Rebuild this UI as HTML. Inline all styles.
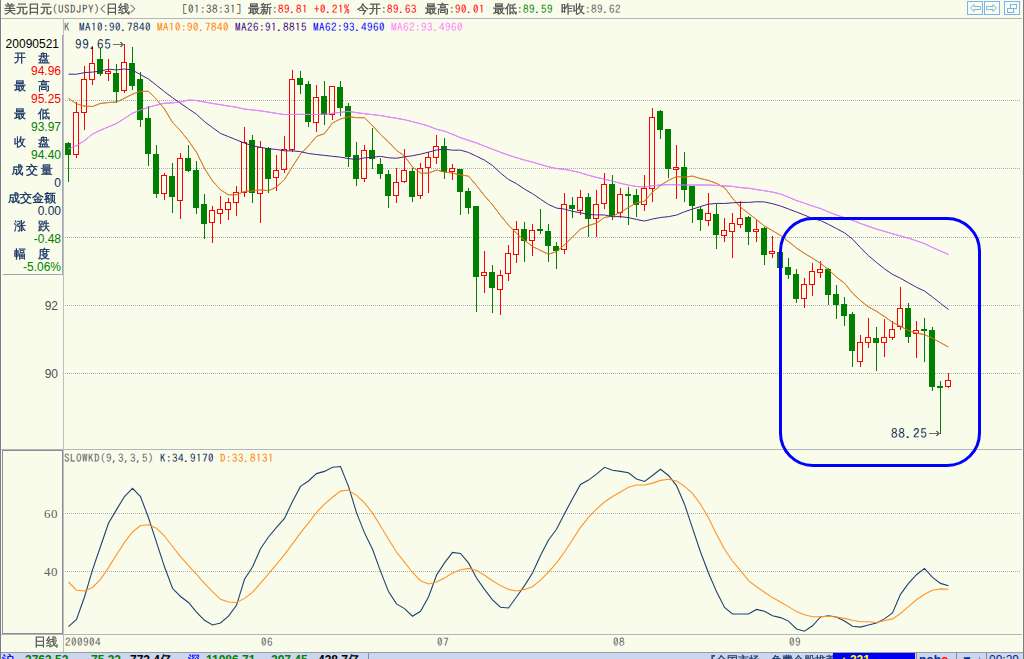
<!DOCTYPE html>
<html><head><meta charset="utf-8"><title>USDJPY</title>
<style>
html,body{margin:0;padding:0;width:1024px;height:659px;overflow:hidden;background:#FAFCEB}
svg{display:block;position:absolute;left:0;top:0}
</style></head><body>
<svg width="1024" height="659" viewBox="0 0 1024 659">
<rect x="0" y="0" width="1024" height="659" fill="#FAFCEB"/>
<g shape-rendering="crispEdges">
<rect x="0" y="0" width="1" height="659" fill="#7C7C84"/>
<rect x="1" y="0" width="1" height="652" fill="#FFFFFF" fill-opacity="0.6"/>
<rect x="1023" y="0" width="1" height="659" fill="#7C7C84"/>
<rect x="1" y="18" width="1021" height="1" fill="#B4B4BC"/>
<rect x="63" y="18" width="1" height="634" fill="#BCBCC4"/>
<rect x="1" y="449" width="1021" height="1" fill="#B4B4BC"/>
<rect x="1" y="634" width="1021" height="1" fill="#B4B4BC"/>
<rect x="1" y="652" width="1022" height="1" fill="#9C9CA4"/>
<rect x="62" y="35" width="1" height="240" fill="#A4A4AC"/>
<rect x="3" y="274" width="60" height="1" fill="#A4A4AC"/>
<rect x="2.5" y="450.5" width="60" height="183" fill="none" stroke="#8C8C94" stroke-width="1"/>
<rect x="1" y="653" width="1022" height="6" fill="#CCD6EE"/>
<line x1="65" y1="100.5" x2="1020" y2="100.5" stroke="#AEAEB8" stroke-width="1" stroke-dasharray="1 1"/>
<line x1="65" y1="168.5" x2="1020" y2="168.5" stroke="#AEAEB8" stroke-width="1" stroke-dasharray="1 1"/>
<line x1="65" y1="237.5" x2="1020" y2="237.5" stroke="#AEAEB8" stroke-width="1" stroke-dasharray="1 1"/>
<line x1="65" y1="305.5" x2="1020" y2="305.5" stroke="#AEAEB8" stroke-width="1" stroke-dasharray="1 1"/>
<line x1="65" y1="373.5" x2="1020" y2="373.5" stroke="#AEAEB8" stroke-width="1" stroke-dasharray="1 1"/>
<line x1="65" y1="513.5" x2="1020" y2="513.5" stroke="#AEAEB8" stroke-width="1" stroke-dasharray="1 1"/>
<line x1="65" y1="571.5" x2="1020" y2="571.5" stroke="#AEAEB8" stroke-width="1" stroke-dasharray="1 1"/>
<rect x="68" y="142" width="1" height="40" fill="#008000"/>
<rect x="65" y="143" width="6" height="12" fill="#008000"/>
<rect x="76" y="102" width="1" height="10" fill="#FF0000"/>
<rect x="76" y="155" width="1" height="3" fill="#FF0000"/>
<rect x="73.5" y="112.5" width="5" height="42" fill="none" stroke="#FF0000" stroke-width="1"/>
<rect x="84" y="66" width="1" height="13" fill="#FF0000"/>
<rect x="84" y="113" width="1" height="17" fill="#FF0000"/>
<rect x="81.5" y="79.5" width="5" height="33" fill="none" stroke="#FF0000" stroke-width="1"/>
<rect x="92" y="46" width="1" height="17" fill="#FF0000"/>
<rect x="92" y="80" width="1" height="5" fill="#FF0000"/>
<rect x="89.5" y="63.5" width="5" height="16" fill="none" stroke="#FF0000" stroke-width="1"/>
<rect x="100" y="48" width="1" height="28" fill="#008000"/>
<rect x="97" y="59" width="6" height="15" fill="#008000"/>
<rect x="108" y="59" width="1" height="12" fill="#FF0000"/>
<rect x="108" y="74" width="1" height="7" fill="#FF0000"/>
<rect x="105.5" y="71.5" width="5" height="2" fill="none" stroke="#FF0000" stroke-width="1"/>
<rect x="116" y="64" width="1" height="39" fill="#008000"/>
<rect x="113" y="73" width="6" height="19" fill="#008000"/>
<rect x="124" y="44" width="1" height="18" fill="#FF0000"/>
<rect x="124" y="91" width="1" height="2" fill="#FF0000"/>
<rect x="121.5" y="62.5" width="5" height="28" fill="none" stroke="#FF0000" stroke-width="1"/>
<rect x="132" y="47" width="1" height="43" fill="#008000"/>
<rect x="129" y="63" width="6" height="23" fill="#008000"/>
<rect x="140" y="72" width="1" height="55" fill="#008000"/>
<rect x="137" y="79" width="6" height="41" fill="#008000"/>
<rect x="148" y="106" width="1" height="60" fill="#008000"/>
<rect x="145" y="118" width="6" height="36" fill="#008000"/>
<rect x="156" y="145" width="1" height="53" fill="#008000"/>
<rect x="153" y="154" width="6" height="40" fill="#008000"/>
<rect x="164" y="173" width="1" height="2" fill="#FF0000"/>
<rect x="164" y="194" width="1" height="6" fill="#FF0000"/>
<rect x="161.5" y="175.5" width="5" height="18" fill="none" stroke="#FF0000" stroke-width="1"/>
<rect x="172" y="163" width="1" height="50" fill="#008000"/>
<rect x="169" y="176" width="6" height="21" fill="#008000"/>
<rect x="180" y="153" width="1" height="5" fill="#FF0000"/>
<rect x="180" y="201" width="1" height="18" fill="#FF0000"/>
<rect x="177.5" y="158.5" width="5" height="42" fill="none" stroke="#FF0000" stroke-width="1"/>
<rect x="188" y="145" width="1" height="27" fill="#008000"/>
<rect x="185" y="158" width="6" height="13" fill="#008000"/>
<rect x="196" y="161" width="1" height="53" fill="#008000"/>
<rect x="193" y="170" width="6" height="38" fill="#008000"/>
<rect x="204" y="194" width="1" height="45" fill="#008000"/>
<rect x="201" y="204" width="6" height="20" fill="#008000"/>
<rect x="212" y="206" width="1" height="4" fill="#FF0000"/>
<rect x="212" y="223" width="1" height="20" fill="#FF0000"/>
<rect x="209.5" y="210.5" width="5" height="12" fill="none" stroke="#FF0000" stroke-width="1"/>
<rect x="220" y="196" width="1" height="13" fill="#FF0000"/>
<rect x="220" y="214" width="1" height="10" fill="#FF0000"/>
<rect x="217.5" y="209.5" width="5" height="4" fill="none" stroke="#FF0000" stroke-width="1"/>
<rect x="228" y="198" width="1" height="4" fill="#FF0000"/>
<rect x="228" y="210" width="1" height="10" fill="#FF0000"/>
<rect x="225.5" y="202.5" width="5" height="7" fill="none" stroke="#FF0000" stroke-width="1"/>
<rect x="236" y="186" width="1" height="6" fill="#FF0000"/>
<rect x="236" y="203" width="1" height="13" fill="#FF0000"/>
<rect x="233.5" y="192.5" width="5" height="10" fill="none" stroke="#FF0000" stroke-width="1"/>
<rect x="244" y="127" width="1" height="15" fill="#FF0000"/>
<rect x="244" y="193" width="1" height="4" fill="#FF0000"/>
<rect x="241.5" y="142.5" width="5" height="50" fill="none" stroke="#FF0000" stroke-width="1"/>
<rect x="252" y="135" width="1" height="68" fill="#008000"/>
<rect x="249" y="140" width="6" height="53" fill="#008000"/>
<rect x="260" y="141" width="1" height="6" fill="#FF0000"/>
<rect x="260" y="194" width="1" height="29" fill="#FF0000"/>
<rect x="257.5" y="147.5" width="5" height="46" fill="none" stroke="#FF0000" stroke-width="1"/>
<rect x="268" y="147" width="1" height="46" fill="#008000"/>
<rect x="265" y="148" width="6" height="31" fill="#008000"/>
<rect x="276" y="155" width="1" height="15" fill="#FF0000"/>
<rect x="276" y="178" width="1" height="13" fill="#FF0000"/>
<rect x="273.5" y="170.5" width="5" height="7" fill="none" stroke="#FF0000" stroke-width="1"/>
<rect x="284" y="136" width="1" height="13" fill="#FF0000"/>
<rect x="284" y="170" width="1" height="3" fill="#FF0000"/>
<rect x="281.5" y="149.5" width="5" height="20" fill="none" stroke="#FF0000" stroke-width="1"/>
<rect x="292" y="70" width="1" height="9" fill="#FF0000"/>
<rect x="292" y="150" width="1" height="2" fill="#FF0000"/>
<rect x="289.5" y="79.5" width="5" height="70" fill="none" stroke="#FF0000" stroke-width="1"/>
<rect x="300" y="71" width="1" height="23" fill="#008000"/>
<rect x="297" y="78" width="6" height="7" fill="#008000"/>
<rect x="308" y="81" width="1" height="46" fill="#008000"/>
<rect x="305" y="84" width="6" height="38" fill="#008000"/>
<rect x="316" y="85" width="1" height="12" fill="#FF0000"/>
<rect x="316" y="123" width="1" height="9" fill="#FF0000"/>
<rect x="313.5" y="97.5" width="5" height="25" fill="none" stroke="#FF0000" stroke-width="1"/>
<rect x="324" y="81" width="1" height="44" fill="#008000"/>
<rect x="321" y="96" width="6" height="19" fill="#008000"/>
<rect x="332" y="115" width="1" height="5" fill="#FF0000"/>
<rect x="329.5" y="86.5" width="5" height="28" fill="none" stroke="#FF0000" stroke-width="1"/>
<rect x="340" y="81" width="1" height="35" fill="#008000"/>
<rect x="337" y="87" width="6" height="21" fill="#008000"/>
<rect x="348" y="103" width="1" height="64" fill="#008000"/>
<rect x="345" y="106" width="6" height="51" fill="#008000"/>
<rect x="356" y="142" width="1" height="44" fill="#008000"/>
<rect x="353" y="155" width="6" height="24" fill="#008000"/>
<rect x="364" y="145" width="1" height="5" fill="#FF0000"/>
<rect x="364" y="179" width="1" height="3" fill="#FF0000"/>
<rect x="361.5" y="150.5" width="5" height="28" fill="none" stroke="#FF0000" stroke-width="1"/>
<rect x="372" y="128" width="1" height="41" fill="#008000"/>
<rect x="369" y="150" width="6" height="9" fill="#008000"/>
<rect x="380" y="158" width="1" height="21" fill="#008000"/>
<rect x="377" y="164" width="6" height="10" fill="#008000"/>
<rect x="388" y="170" width="1" height="38" fill="#008000"/>
<rect x="385" y="174" width="6" height="22" fill="#008000"/>
<rect x="396" y="168" width="1" height="14" fill="#FF0000"/>
<rect x="396" y="196" width="1" height="7" fill="#FF0000"/>
<rect x="393.5" y="182.5" width="5" height="13" fill="none" stroke="#FF0000" stroke-width="1"/>
<rect x="404" y="149" width="1" height="21" fill="#FF0000"/>
<rect x="404" y="182" width="1" height="1" fill="#FF0000"/>
<rect x="401.5" y="170.5" width="5" height="11" fill="none" stroke="#FF0000" stroke-width="1"/>
<rect x="412" y="168" width="1" height="34" fill="#008000"/>
<rect x="409" y="171" width="6" height="26" fill="#008000"/>
<rect x="420" y="163" width="1" height="5" fill="#FF0000"/>
<rect x="420" y="196" width="1" height="3" fill="#FF0000"/>
<rect x="417.5" y="168.5" width="5" height="27" fill="none" stroke="#FF0000" stroke-width="1"/>
<rect x="428" y="152" width="1" height="5" fill="#FF0000"/>
<rect x="428" y="168" width="1" height="25" fill="#FF0000"/>
<rect x="425.5" y="157.5" width="5" height="10" fill="none" stroke="#FF0000" stroke-width="1"/>
<rect x="436" y="135" width="1" height="11" fill="#FF0000"/>
<rect x="436" y="158" width="1" height="6" fill="#FF0000"/>
<rect x="433.5" y="146.5" width="5" height="11" fill="none" stroke="#FF0000" stroke-width="1"/>
<rect x="444" y="138" width="1" height="41" fill="#008000"/>
<rect x="441" y="146" width="6" height="26" fill="#008000"/>
<rect x="452" y="164" width="1" height="4" fill="#FF0000"/>
<rect x="452" y="172" width="1" height="8" fill="#FF0000"/>
<rect x="449.5" y="168.5" width="5" height="3" fill="none" stroke="#FF0000" stroke-width="1"/>
<rect x="460" y="169" width="1" height="46" fill="#008000"/>
<rect x="457" y="169" width="6" height="23" fill="#008000"/>
<rect x="468" y="188" width="1" height="26" fill="#008000"/>
<rect x="465" y="191" width="6" height="17" fill="#008000"/>
<rect x="476" y="206" width="1" height="106" fill="#008000"/>
<rect x="473" y="206" width="6" height="71" fill="#008000"/>
<rect x="484" y="251" width="1" height="21" fill="#FF0000"/>
<rect x="484" y="276" width="1" height="17" fill="#FF0000"/>
<rect x="481.5" y="272.5" width="5" height="3" fill="none" stroke="#FF0000" stroke-width="1"/>
<rect x="492" y="265" width="1" height="48" fill="#008000"/>
<rect x="489" y="272" width="6" height="16" fill="#008000"/>
<rect x="500" y="270" width="1" height="5" fill="#FF0000"/>
<rect x="500" y="290" width="1" height="25" fill="#FF0000"/>
<rect x="497.5" y="275.5" width="5" height="14" fill="none" stroke="#FF0000" stroke-width="1"/>
<rect x="508" y="245" width="1" height="8" fill="#FF0000"/>
<rect x="508" y="274" width="1" height="7" fill="#FF0000"/>
<rect x="505.5" y="253.5" width="5" height="20" fill="none" stroke="#FF0000" stroke-width="1"/>
<rect x="516" y="221" width="1" height="8" fill="#FF0000"/>
<rect x="516" y="255" width="1" height="8" fill="#FF0000"/>
<rect x="513.5" y="229.5" width="5" height="25" fill="none" stroke="#FF0000" stroke-width="1"/>
<rect x="524" y="222" width="1" height="40" fill="#008000"/>
<rect x="521" y="229" width="6" height="12" fill="#008000"/>
<rect x="532" y="224" width="1" height="6" fill="#FF0000"/>
<rect x="532" y="241" width="1" height="15" fill="#FF0000"/>
<rect x="529.5" y="230.5" width="5" height="10" fill="none" stroke="#FF0000" stroke-width="1"/>
<rect x="540" y="209" width="1" height="25" fill="#008000"/>
<rect x="537" y="229" width="6" height="2" fill="#008000"/>
<rect x="548" y="224" width="1" height="38" fill="#008000"/>
<rect x="545" y="231" width="6" height="15" fill="#008000"/>
<rect x="556" y="242" width="1" height="27" fill="#008000"/>
<rect x="553" y="246" width="6" height="5" fill="#008000"/>
<rect x="564" y="193" width="1" height="11" fill="#FF0000"/>
<rect x="564" y="250" width="1" height="4" fill="#FF0000"/>
<rect x="561.5" y="204.5" width="5" height="45" fill="none" stroke="#FF0000" stroke-width="1"/>
<rect x="572" y="197" width="1" height="21" fill="#008000"/>
<rect x="569" y="205" width="6" height="4" fill="#008000"/>
<rect x="580" y="190" width="1" height="7" fill="#FF0000"/>
<rect x="580" y="211" width="1" height="4" fill="#FF0000"/>
<rect x="577.5" y="197.5" width="5" height="13" fill="none" stroke="#FF0000" stroke-width="1"/>
<rect x="588" y="193" width="1" height="44" fill="#008000"/>
<rect x="585" y="197" width="6" height="22" fill="#008000"/>
<rect x="596" y="190" width="1" height="14" fill="#FF0000"/>
<rect x="596" y="219" width="1" height="18" fill="#FF0000"/>
<rect x="593.5" y="204.5" width="5" height="14" fill="none" stroke="#FF0000" stroke-width="1"/>
<rect x="604" y="173" width="1" height="11" fill="#FF0000"/>
<rect x="604" y="204" width="1" height="5" fill="#FF0000"/>
<rect x="601.5" y="184.5" width="5" height="19" fill="none" stroke="#FF0000" stroke-width="1"/>
<rect x="612" y="175" width="1" height="45" fill="#008000"/>
<rect x="609" y="184" width="6" height="32" fill="#008000"/>
<rect x="620" y="188" width="1" height="6" fill="#FF0000"/>
<rect x="620" y="213" width="1" height="5" fill="#FF0000"/>
<rect x="617.5" y="194.5" width="5" height="18" fill="none" stroke="#FF0000" stroke-width="1"/>
<rect x="628" y="187" width="1" height="38" fill="#008000"/>
<rect x="625" y="194" width="6" height="2" fill="#008000"/>
<rect x="636" y="189" width="1" height="28" fill="#008000"/>
<rect x="633" y="195" width="6" height="10" fill="#008000"/>
<rect x="644" y="175" width="1" height="13" fill="#FF0000"/>
<rect x="644" y="205" width="1" height="6" fill="#FF0000"/>
<rect x="641.5" y="188.5" width="5" height="16" fill="none" stroke="#FF0000" stroke-width="1"/>
<rect x="652" y="108" width="1" height="9" fill="#FF0000"/>
<rect x="652" y="189" width="1" height="13" fill="#FF0000"/>
<rect x="649.5" y="117.5" width="5" height="71" fill="none" stroke="#FF0000" stroke-width="1"/>
<rect x="660" y="110" width="1" height="29" fill="#008000"/>
<rect x="657" y="111" width="6" height="19" fill="#008000"/>
<rect x="668" y="129" width="1" height="49" fill="#008000"/>
<rect x="665" y="129" width="6" height="40" fill="#008000"/>
<rect x="676" y="145" width="1" height="22" fill="#FF0000"/>
<rect x="676" y="170" width="1" height="29" fill="#FF0000"/>
<rect x="673.5" y="167.5" width="5" height="2" fill="none" stroke="#FF0000" stroke-width="1"/>
<rect x="684" y="152" width="1" height="50" fill="#008000"/>
<rect x="681" y="167" width="6" height="23" fill="#008000"/>
<rect x="692" y="186" width="1" height="37" fill="#008000"/>
<rect x="689" y="186" width="6" height="20" fill="#008000"/>
<rect x="700" y="207" width="1" height="24" fill="#008000"/>
<rect x="697" y="209" width="6" height="11" fill="#008000"/>
<rect x="708" y="193" width="1" height="20" fill="#FF0000"/>
<rect x="708" y="221" width="1" height="5" fill="#FF0000"/>
<rect x="705.5" y="213.5" width="5" height="7" fill="none" stroke="#FF0000" stroke-width="1"/>
<rect x="716" y="204" width="1" height="45" fill="#008000"/>
<rect x="713" y="214" width="6" height="21" fill="#008000"/>
<rect x="724" y="218" width="1" height="12" fill="#FF0000"/>
<rect x="724" y="236" width="1" height="6" fill="#FF0000"/>
<rect x="721.5" y="230.5" width="5" height="5" fill="none" stroke="#FF0000" stroke-width="1"/>
<rect x="732" y="213" width="1" height="10" fill="#FF0000"/>
<rect x="732" y="232" width="1" height="26" fill="#FF0000"/>
<rect x="729.5" y="223.5" width="5" height="8" fill="none" stroke="#FF0000" stroke-width="1"/>
<rect x="740" y="201" width="1" height="17" fill="#FF0000"/>
<rect x="740" y="225" width="1" height="3" fill="#FF0000"/>
<rect x="737.5" y="218.5" width="5" height="6" fill="none" stroke="#FF0000" stroke-width="1"/>
<rect x="748" y="216" width="1" height="29" fill="#008000"/>
<rect x="745" y="217" width="6" height="15" fill="#008000"/>
<rect x="756" y="220" width="1" height="9" fill="#FF0000"/>
<rect x="756" y="232" width="1" height="10" fill="#FF0000"/>
<rect x="753.5" y="229.5" width="5" height="2" fill="none" stroke="#FF0000" stroke-width="1"/>
<rect x="764" y="227" width="1" height="38" fill="#008000"/>
<rect x="761" y="228" width="6" height="27" fill="#008000"/>
<rect x="772" y="236" width="1" height="15" fill="#FF0000"/>
<rect x="772" y="254" width="1" height="4" fill="#FF0000"/>
<rect x="769.5" y="251.5" width="5" height="2" fill="none" stroke="#FF0000" stroke-width="1"/>
<rect x="780" y="252" width="1" height="16" fill="#008000"/>
<rect x="777" y="252" width="6" height="16" fill="#008000"/>
<rect x="788" y="258" width="1" height="21" fill="#008000"/>
<rect x="785" y="267" width="6" height="8" fill="#008000"/>
<rect x="796" y="269" width="1" height="34" fill="#008000"/>
<rect x="793" y="274" width="6" height="25" fill="#008000"/>
<rect x="804" y="278" width="1" height="6" fill="#FF0000"/>
<rect x="804" y="299" width="1" height="9" fill="#FF0000"/>
<rect x="801.5" y="284.5" width="5" height="14" fill="none" stroke="#FF0000" stroke-width="1"/>
<rect x="812" y="263" width="1" height="8" fill="#FF0000"/>
<rect x="812" y="285" width="1" height="11" fill="#FF0000"/>
<rect x="809.5" y="271.5" width="5" height="13" fill="none" stroke="#FF0000" stroke-width="1"/>
<rect x="820" y="261" width="1" height="8" fill="#FF0000"/>
<rect x="820" y="273" width="1" height="5" fill="#FF0000"/>
<rect x="817.5" y="269.5" width="5" height="3" fill="none" stroke="#FF0000" stroke-width="1"/>
<rect x="828" y="268" width="1" height="37" fill="#008000"/>
<rect x="825" y="269" width="6" height="26" fill="#008000"/>
<rect x="836" y="285" width="1" height="34" fill="#008000"/>
<rect x="833" y="294" width="6" height="11" fill="#008000"/>
<rect x="844" y="297" width="1" height="29" fill="#008000"/>
<rect x="841" y="304" width="6" height="12" fill="#008000"/>
<rect x="852" y="312" width="1" height="55" fill="#008000"/>
<rect x="849" y="314" width="6" height="37" fill="#008000"/>
<rect x="860" y="335" width="1" height="7" fill="#FF0000"/>
<rect x="860" y="362" width="1" height="5" fill="#FF0000"/>
<rect x="857.5" y="342.5" width="5" height="19" fill="none" stroke="#FF0000" stroke-width="1"/>
<rect x="868" y="318" width="1" height="19" fill="#FF0000"/>
<rect x="868" y="343" width="1" height="5" fill="#FF0000"/>
<rect x="865.5" y="337.5" width="5" height="5" fill="none" stroke="#FF0000" stroke-width="1"/>
<rect x="876" y="327" width="1" height="44" fill="#008000"/>
<rect x="873" y="338" width="6" height="5" fill="#008000"/>
<rect x="884" y="319" width="1" height="18" fill="#FF0000"/>
<rect x="884" y="343" width="1" height="14" fill="#FF0000"/>
<rect x="881.5" y="337.5" width="5" height="5" fill="none" stroke="#FF0000" stroke-width="1"/>
<rect x="892" y="321" width="1" height="8" fill="#FF0000"/>
<rect x="892" y="338" width="1" height="2" fill="#FF0000"/>
<rect x="889.5" y="329.5" width="5" height="8" fill="none" stroke="#FF0000" stroke-width="1"/>
<rect x="900" y="287" width="1" height="21" fill="#FF0000"/>
<rect x="900" y="327" width="1" height="3" fill="#FF0000"/>
<rect x="897.5" y="308.5" width="5" height="18" fill="none" stroke="#FF0000" stroke-width="1"/>
<rect x="908" y="303" width="1" height="40" fill="#008000"/>
<rect x="905" y="308" width="6" height="29" fill="#008000"/>
<rect x="916" y="321" width="1" height="9" fill="#FF0000"/>
<rect x="916" y="334" width="1" height="24" fill="#FF0000"/>
<rect x="913.5" y="330.5" width="5" height="3" fill="none" stroke="#FF0000" stroke-width="1"/>
<rect x="924" y="318" width="1" height="44" fill="#008000"/>
<rect x="921" y="329" width="6" height="2" fill="#008000"/>
<rect x="932" y="327" width="1" height="64" fill="#008000"/>
<rect x="929" y="330" width="6" height="57" fill="#008000"/>
<rect x="940" y="381" width="1" height="53" fill="#008000"/>
<rect x="937" y="386" width="6" height="2" fill="#008000"/>
<rect x="948" y="373" width="1" height="7" fill="#FF0000"/>
<rect x="948" y="387" width="1" height="1" fill="#FF0000"/>
<rect x="945.5" y="380.5" width="5" height="6" fill="none" stroke="#FF0000" stroke-width="1"/>
<polyline points="68.5,98.30 76.5,103.88 84.5,106.11 92.5,106.50 100.5,103.40 108.5,102.52 116.5,101.97 124.5,98.25 132.5,94.10 140.5,91.40 148.5,91.30 156.5,99.40 164.5,109.00 172.5,122.30 180.5,130.80 188.5,140.70 196.5,152.30 204.5,168.40 212.5,180.90 220.5,189.90 228.5,194.80 236.5,194.70 244.5,191.40 252.5,191.00 260.5,189.90 268.5,190.70 276.5,187.00 284.5,179.60 292.5,166.50 300.5,154.00 308.5,145.90 316.5,136.40 324.5,133.60 332.5,123.00 340.5,119.00 348.5,116.80 356.5,117.60 364.5,117.70 372.5,125.60 380.5,134.50 388.5,141.90 396.5,150.40 404.5,156.00 412.5,167.00 420.5,173.10 428.5,173.20 436.5,170.00 444.5,172.10 452.5,173.10 460.5,174.90 468.5,176.10 476.5,185.50 484.5,195.70 492.5,204.80 500.5,215.50 508.5,225.10 516.5,233.40 524.5,240.30 532.5,246.50 540.5,250.40 548.5,254.20 556.5,251.60 564.5,244.80 572.5,236.90 580.5,229.10 588.5,225.60 596.5,223.10 604.5,217.50 612.5,216.00 620.5,212.40 628.5,207.40 636.5,202.80 644.5,201.20 652.5,192.10 660.5,185.30 668.5,180.30 676.5,176.60 684.5,177.10 692.5,176.10 700.5,178.60 708.5,180.40 716.5,183.40 724.5,187.60 732.5,198.20 740.5,207.10 748.5,213.40 756.5,219.60 764.5,226.10 772.5,230.70 780.5,235.50 788.5,241.60 796.5,248.00 804.5,253.40 812.5,258.20 820.5,263.30 828.5,269.60 836.5,277.10 844.5,283.20 852.5,293.10 860.5,300.60 868.5,306.90 876.5,311.30 884.5,316.60 892.5,322.40 900.5,326.30 908.5,330.50 916.5,333.10 924.5,334.60 932.5,338.20 940.5,342.70 948.5,347.00" fill="none" stroke="#0A2A5C" stroke-width="1" stroke-opacity="0.55" shape-rendering="auto"/>
<polyline points="68.5,98.30 76.5,103.88 84.5,106.11 92.5,106.50 100.5,103.40 108.5,102.52 116.5,101.97 124.5,98.25 132.5,94.10 140.5,91.40 148.5,91.30 156.5,99.40 164.5,109.00 172.5,122.30 180.5,130.80 188.5,140.70 196.5,152.30 204.5,168.40 212.5,180.90 220.5,189.90 228.5,194.80 236.5,194.70 244.5,191.40 252.5,191.00 260.5,189.90 268.5,190.70 276.5,187.00 284.5,179.60 292.5,166.50 300.5,154.00 308.5,145.90 316.5,136.40 324.5,133.60 332.5,123.00 340.5,119.00 348.5,116.80 356.5,117.60 364.5,117.70 372.5,125.60 380.5,134.50 388.5,141.90 396.5,150.40 404.5,156.00 412.5,167.00 420.5,173.10 428.5,173.20 436.5,170.00 444.5,172.10 452.5,173.10 460.5,174.90 468.5,176.10 476.5,185.50 484.5,195.70 492.5,204.80 500.5,215.50 508.5,225.10 516.5,233.40 524.5,240.30 532.5,246.50 540.5,250.40 548.5,254.20 556.5,251.60 564.5,244.80 572.5,236.90 580.5,229.10 588.5,225.60 596.5,223.10 604.5,217.50 612.5,216.00 620.5,212.40 628.5,207.40 636.5,202.80 644.5,201.20 652.5,192.10 660.5,185.30 668.5,180.30 676.5,176.60 684.5,177.10 692.5,176.10 700.5,178.60 708.5,180.40 716.5,183.40 724.5,187.60 732.5,198.20 740.5,207.10 748.5,213.40 756.5,219.60 764.5,226.10 772.5,230.70 780.5,235.50 788.5,241.60 796.5,248.00 804.5,253.40 812.5,258.20 820.5,263.30 828.5,269.60 836.5,277.10 844.5,283.20 852.5,293.10 860.5,300.60 868.5,306.90 876.5,311.30 884.5,316.60 892.5,322.40 900.5,326.30 908.5,330.50 916.5,333.10 924.5,334.60 932.5,338.20 940.5,342.70 948.5,347.00" fill="none" stroke="#FF8000" stroke-width="1" stroke-opacity="0.9" shape-rendering="auto"/>
<polyline points="68.5,74.15 76.5,74.19 84.5,72.62 92.5,72.08 100.5,71.12 108.5,69.16 116.5,69.94 124.5,68.95 132.5,70.09 140.5,74.65 148.5,79.00 156.5,85.35 164.5,91.69 172.5,97.69 180.5,103.34 188.5,108.85 196.5,114.29 204.5,121.62 212.5,127.61 220.5,133.44 228.5,136.67 236.5,139.90 244.5,143.10 252.5,145.75 260.5,147.38 268.5,148.81 276.5,149.42 284.5,150.85 292.5,150.85 300.5,151.65 308.5,153.50 316.5,154.50 324.5,155.38 332.5,156.31 340.5,157.15 348.5,158.58 356.5,159.54 364.5,157.88 372.5,157.23 380.5,156.35 388.5,157.77 396.5,158.23 404.5,156.81 412.5,155.77 420.5,154.15 428.5,152.15 436.5,150.00 444.5,149.19 452.5,150.19 460.5,150.15 468.5,152.46 476.5,156.23 484.5,160.15 492.5,165.46 500.5,173.00 508.5,179.50 516.5,183.65 524.5,189.15 532.5,193.62 540.5,199.15 548.5,204.46 556.5,208.08 564.5,209.08 572.5,211.31 580.5,212.81 588.5,214.54 596.5,214.88 604.5,214.96 612.5,216.69 620.5,216.62 628.5,217.65 636.5,219.46 644.5,221.08 652.5,219.00 660.5,217.50 668.5,216.62 676.5,215.08 684.5,211.73 692.5,209.15 700.5,206.54 708.5,204.15 716.5,203.42 724.5,203.46 732.5,202.81 740.5,202.35 748.5,202.38 756.5,201.77 764.5,201.92 772.5,203.73 780.5,206.00 788.5,208.96 796.5,212.04 804.5,215.12 812.5,218.46 820.5,220.54 828.5,224.38 836.5,228.58 844.5,232.85 852.5,239.08 860.5,247.73 868.5,255.73 876.5,262.42 884.5,268.96 892.5,274.35 900.5,278.31 908.5,282.81 916.5,287.31 924.5,291.00 932.5,297.00 940.5,303.31 948.5,309.54" fill="none" stroke="#48208C" stroke-width="1" shape-rendering="auto"/>
<polyline points="68.5,148.90 76.5,145.64 84.5,140.66 92.5,134.06 100.5,130.20 108.5,126.84 116.5,123.49 124.5,118.36 132.5,113.19 140.5,110.00 148.5,107.25 156.5,105.12 164.5,103.17 172.5,102.87 180.5,101.88 188.5,100.07 196.5,100.54 204.5,101.97 212.5,103.44 220.5,104.74 228.5,106.02 236.5,107.30 244.5,109.07 252.5,109.97 260.5,110.87 268.5,112.05 276.5,113.33 284.5,114.60 292.5,114.47 300.5,114.34 308.5,114.40 316.5,114.53 324.5,114.20 332.5,113.33 340.5,112.39 348.5,111.43 356.5,112.66 364.5,113.66 372.5,114.63 380.5,115.60 388.5,116.97 396.5,118.34 404.5,119.71 412.5,121.66 420.5,123.76 428.5,126.05 436.5,129.22 444.5,131.21 452.5,134.32 460.5,137.70 468.5,140.36 476.5,143.02 484.5,146.11 492.5,149.23 500.5,152.26 508.5,155.10 516.5,157.68 524.5,160.07 532.5,162.17 540.5,164.42 548.5,166.80 556.5,168.50 564.5,169.31 572.5,170.85 580.5,172.76 588.5,175.26 596.5,177.37 604.5,179.19 612.5,181.19 620.5,183.32 628.5,185.10 636.5,186.47 644.5,187.03 652.5,185.81 660.5,185.06 668.5,184.61 676.5,184.76 684.5,185.06 692.5,185.03 700.5,184.97 708.5,185.02 716.5,185.42 724.5,185.87 732.5,186.37 740.5,187.60 748.5,188.23 756.5,189.55 764.5,190.77 772.5,192.08 780.5,193.98 788.5,197.13 796.5,200.58 804.5,203.21 812.5,206.02 820.5,208.52 828.5,211.87 836.5,215.05 844.5,217.61 852.5,220.39 860.5,223.48 868.5,226.37 876.5,229.10 884.5,231.39 892.5,233.76 900.5,235.98 908.5,238.24 916.5,240.85 924.5,243.65 932.5,247.52 940.5,251.00 948.5,254.42" fill="none" stroke="#0000FF" stroke-width="1" stroke-opacity="0.45" shape-rendering="auto"/>
<polyline points="68.5,148.90 76.5,145.64 84.5,140.66 92.5,134.06 100.5,130.20 108.5,126.84 116.5,123.49 124.5,118.36 132.5,113.19 140.5,110.00 148.5,107.25 156.5,105.12 164.5,103.17 172.5,102.87 180.5,101.88 188.5,100.07 196.5,100.54 204.5,101.97 212.5,103.44 220.5,104.74 228.5,106.02 236.5,107.30 244.5,109.07 252.5,109.97 260.5,110.87 268.5,112.05 276.5,113.33 284.5,114.60 292.5,114.47 300.5,114.34 308.5,114.40 316.5,114.53 324.5,114.20 332.5,113.33 340.5,112.39 348.5,111.43 356.5,112.66 364.5,113.66 372.5,114.63 380.5,115.60 388.5,116.97 396.5,118.34 404.5,119.71 412.5,121.66 420.5,123.76 428.5,126.05 436.5,129.22 444.5,131.21 452.5,134.32 460.5,137.70 468.5,140.36 476.5,143.02 484.5,146.11 492.5,149.23 500.5,152.26 508.5,155.10 516.5,157.68 524.5,160.07 532.5,162.17 540.5,164.42 548.5,166.80 556.5,168.50 564.5,169.31 572.5,170.85 580.5,172.76 588.5,175.26 596.5,177.37 604.5,179.19 612.5,181.19 620.5,183.32 628.5,185.10 636.5,186.47 644.5,187.03 652.5,185.81 660.5,185.06 668.5,184.61 676.5,184.76 684.5,185.06 692.5,185.03 700.5,184.97 708.5,185.02 716.5,185.42 724.5,185.87 732.5,186.37 740.5,187.60 748.5,188.23 756.5,189.55 764.5,190.77 772.5,192.08 780.5,193.98 788.5,197.13 796.5,200.58 804.5,203.21 812.5,206.02 820.5,208.52 828.5,211.87 836.5,215.05 844.5,217.61 852.5,220.39 860.5,223.48 868.5,226.37 876.5,229.10 884.5,231.39 892.5,233.76 900.5,235.98 908.5,238.24 916.5,240.85 924.5,243.65 932.5,247.52 940.5,251.00 948.5,254.42" fill="none" stroke="#FF80FF" stroke-width="1" stroke-opacity="0.95" shape-rendering="auto"/>
<polyline points="68.5,626.60 76.5,619.50 84.5,597.00 92.5,569.80 100.5,546.50 108.5,523.30 116.5,509.60 124.5,496.50 132.5,488.30 140.5,496.50 148.5,517.80 156.5,542.40 164.5,566.80 172.5,588.30 180.5,596.50 188.5,602.50 196.5,612.10 204.5,620.30 212.5,625.00 220.5,623.00 228.5,616.20 236.5,605.30 244.5,579.30 252.5,567.00 260.5,548.80 268.5,537.00 276.5,527.40 284.5,518.40 292.5,501.40 300.5,486.40 308.5,481.00 316.5,473.60 324.5,471.40 332.5,467.30 340.5,466.50 348.5,486.40 356.5,512.60 364.5,532.90 372.5,549.30 380.5,571.10 388.5,591.60 396.5,603.90 404.5,608.60 412.5,616.20 420.5,611.30 428.5,597.00 436.5,575.20 444.5,562.90 452.5,552.40 460.5,553.40 468.5,562.90 476.5,578.00 484.5,589.40 492.5,599.80 500.5,607.20 508.5,608.00 516.5,597.00 524.5,585.60 532.5,573.00 540.5,555.50 548.5,540.00 556.5,529.30 564.5,513.70 572.5,498.70 580.5,484.50 588.5,480.10 596.5,474.10 604.5,467.30 612.5,470.30 620.5,471.40 628.5,472.80 636.5,479.00 644.5,481.50 652.5,475.50 660.5,469.20 668.5,475.50 676.5,485.60 684.5,504.20 692.5,528.20 700.5,552.00 708.5,573.00 716.5,591.60 724.5,607.50 732.5,614.00 740.5,614.00 748.5,614.00 756.5,609.40 764.5,611.30 772.5,615.70 780.5,617.60 788.5,621.10 796.5,629.00 804.5,631.20 812.5,625.80 820.5,617.00 828.5,615.70 836.5,617.00 844.5,621.10 852.5,626.30 860.5,627.10 868.5,625.00 876.5,623.00 884.5,618.90 892.5,612.90 900.5,594.30 908.5,583.40 916.5,574.70 924.5,568.40 932.5,577.40 940.5,583.40 948.5,585.80" fill="none" stroke="#1E4270" stroke-width="1.1" shape-rendering="auto"/>
<polyline points="68.5,582.00 76.5,590.20 84.5,591.00 92.5,587.50 100.5,579.30 108.5,567.60 116.5,554.70 124.5,542.40 132.5,532.00 140.5,525.50 148.5,524.70 156.5,528.20 164.5,536.00 172.5,546.50 180.5,556.60 188.5,565.70 196.5,574.40 204.5,583.40 212.5,591.60 220.5,599.30 228.5,602.00 236.5,602.50 244.5,598.40 252.5,592.40 260.5,583.10 268.5,573.90 276.5,564.30 284.5,554.70 292.5,543.80 300.5,532.90 308.5,522.80 316.5,512.40 324.5,504.20 332.5,497.30 340.5,491.10 348.5,490.00 356.5,495.40 364.5,502.80 372.5,512.90 380.5,526.00 388.5,539.20 396.5,552.00 404.5,562.10 412.5,572.50 420.5,580.70 428.5,584.00 436.5,582.00 444.5,578.00 452.5,573.00 460.5,569.80 468.5,568.40 476.5,570.30 484.5,575.20 492.5,580.70 500.5,585.60 508.5,589.40 516.5,591.00 524.5,589.40 532.5,586.70 540.5,580.10 548.5,572.20 556.5,562.90 564.5,552.00 572.5,539.70 580.5,527.40 588.5,517.30 596.5,509.10 604.5,502.00 612.5,496.50 620.5,491.90 628.5,487.20 636.5,485.00 644.5,485.00 652.5,483.10 660.5,480.40 668.5,479.30 676.5,481.00 684.5,486.40 692.5,493.30 700.5,504.20 708.5,517.80 716.5,534.20 724.5,549.30 732.5,561.00 740.5,570.70 748.5,580.70 756.5,586.70 764.5,592.20 772.5,597.60 780.5,602.00 788.5,606.60 796.5,611.60 804.5,614.80 812.5,616.70 820.5,616.70 828.5,616.20 836.5,617.00 844.5,618.40 852.5,620.30 860.5,621.70 868.5,621.70 876.5,622.50 884.5,620.80 892.5,618.90 900.5,613.50 908.5,606.60 916.5,599.80 924.5,594.30 932.5,590.20 940.5,588.90 948.5,589.20" fill="none" stroke="#FF9428" stroke-width="1.1" shape-rendering="auto"/>
<rect x="780.5" y="218.5" width="199" height="247" rx="32.5" ry="32.5" fill="none" stroke="#0000FF" stroke-width="3" shape-rendering="auto"/>
<g stroke="#707070" stroke-width="1" fill="none"><line x1="113" y1="44.5" x2="123" y2="44.5"/><polyline points="120.5,42 123,44.5 120.5,47"/><line x1="929" y1="433.5" x2="939" y2="433.5"/><polyline points="936.5,431 939,433.5 936.5,436"/></g>
<rect x="368" y="653" width="1" height="6" fill="#7890B8"/>
<rect x="916" y="652" width="1" height="7" fill="#8C8CA0"/>
<rect x="956" y="652" width="1" height="7" fill="#8C8CA0"/>
<rect x="986" y="652" width="1" height="7" fill="#8C8CA0"/>
<rect x="967.5" y="1.5" width="15" height="13" fill="none" stroke="#7AB4F4" stroke-width="1"/>
<rect x="984.5" y="1.5" width="15" height="13" fill="none" stroke="#7AB4F4" stroke-width="1"/>
<rect x="1004.5" y="1.5" width="15" height="13" fill="none" stroke="#7AB4F4" stroke-width="1"/>
<path d="M970.5,8 L974,4.5 L974,6.5 L980.5,6.5 L980.5,9.5 L974,9.5 L974,11.5 Z" fill="none" stroke="#7AB4F4" stroke-width="1" shape-rendering="auto"/>
<path d="M996.5,8 L993,4.5 L993,6.5 L986.5,6.5 L986.5,9.5 L993,9.5 L993,11.5 Z" fill="none" stroke="#7AB4F4" stroke-width="1" shape-rendering="auto"/>
<rect x="1010.5" y="4.5" width="6" height="4" fill="none" stroke="#7AB4F4"/><rect x="1010" y="3.5" width="7" height="1" fill="#7AB4F4"/>
<rect x="1007.5" y="8.5" width="6" height="4" fill="none" stroke="#7AB4F4"/><rect x="1007" y="7.5" width="7" height="1" fill="#7AB4F4"/>
</g>
<g>
<text ><tspan x="4 16 28 40" y="13" fill="#4C4C4C" font-family="'WenQuanYi Zen Hei','Noto Sans CJK SC',sans-serif" font-size="12" stroke="#4C4C4C" stroke-width="0.3">美元日元</tspan><tspan x="52 58 64 70 76 82 88 94 100" y="13" fill="#4C4C4C" font-family="'IPAGothic','Liberation Mono',monospace" font-size="11">(USDJPY)&lt;</tspan><tspan x="106 118" y="13" fill="#4C4C4C" font-family="'WenQuanYi Zen Hei','Noto Sans CJK SC',sans-serif" font-size="12" stroke="#4C4C4C" stroke-width="0.3">日线</tspan><tspan x="130" y="13" fill="#4C4C4C" font-family="'IPAGothic','Liberation Mono',monospace" font-size="11">&gt;</tspan></text>
<text ><tspan x="182 188 194 200 206 212 218 224 230 236" y="13" fill="#4C4C4C" font-family="'IPAGothic','Liberation Mono',monospace" font-size="11">[01:38:31]</tspan></text>
<text ><tspan x="248 260" y="13" fill="#4C4C4C" font-family="'WenQuanYi Zen Hei','Noto Sans CJK SC',sans-serif" font-size="12" stroke="#4C4C4C" stroke-width="0.3">最新</tspan><tspan x="272" y="13" fill="#4C4C4C" font-family="'IPAGothic','Liberation Mono',monospace" font-size="11">:</tspan><tspan x="278 284 290 296 302" y="13" fill="#FF0000" font-family="'IPAGothic','Liberation Mono',monospace" font-size="11">89.81</tspan></text>
<text ><tspan x="314 320 326 332 338 344" y="13" fill="#FF0000" font-family="'IPAGothic','Liberation Mono',monospace" font-size="11">+0.21%</tspan></text>
<text ><tspan x="357 369" y="13" fill="#4C4C4C" font-family="'WenQuanYi Zen Hei','Noto Sans CJK SC',sans-serif" font-size="12" stroke="#4C4C4C" stroke-width="0.3">今开</tspan><tspan x="381" y="13" fill="#4C4C4C" font-family="'IPAGothic','Liberation Mono',monospace" font-size="11">:</tspan><tspan x="387 393 399 405 411" y="13" fill="#FF0000" font-family="'IPAGothic','Liberation Mono',monospace" font-size="11">89.63</tspan></text>
<text ><tspan x="425 437" y="13" fill="#4C4C4C" font-family="'WenQuanYi Zen Hei','Noto Sans CJK SC',sans-serif" font-size="12" stroke="#4C4C4C" stroke-width="0.3">最高</tspan><tspan x="449" y="13" fill="#4C4C4C" font-family="'IPAGothic','Liberation Mono',monospace" font-size="11">:</tspan><tspan x="455 461 467 473 479" y="13" fill="#FF0000" font-family="'IPAGothic','Liberation Mono',monospace" font-size="11">90.01</tspan></text>
<text ><tspan x="493 505" y="13" fill="#4C4C4C" font-family="'WenQuanYi Zen Hei','Noto Sans CJK SC',sans-serif" font-size="12" stroke="#4C4C4C" stroke-width="0.3">最低</tspan><tspan x="517" y="13" fill="#4C4C4C" font-family="'IPAGothic','Liberation Mono',monospace" font-size="11">:</tspan><tspan x="523 529 535 541 547" y="13" fill="#008000" font-family="'IPAGothic','Liberation Mono',monospace" font-size="11">89.59</tspan></text>
<text ><tspan x="561 573" y="13" fill="#4C4C4C" font-family="'WenQuanYi Zen Hei','Noto Sans CJK SC',sans-serif" font-size="12" stroke="#4C4C4C" stroke-width="0.3">昨收</tspan><tspan x="585" y="13" fill="#4C4C4C" font-family="'IPAGothic','Liberation Mono',monospace" font-size="11">:</tspan><tspan x="591 597 603 609 615" y="13" fill="#606060" font-family="'IPAGothic','Liberation Mono',monospace" font-size="11">89.62</tspan></text>
<text ><tspan x="64" y="31" fill="#606060" font-family="'IPAGothic','Liberation Mono',monospace" font-size="11">K</tspan></text>
<text ><tspan x="79 85 91 97 103 109 115 121 127 133 139 145" y="31" fill="#0A2A5C" font-family="'IPAGothic','Liberation Mono',monospace" font-size="11">MA10:90.7840</tspan></text>
<text ><tspan x="157 163 169 175 181 187 193 199 205 211 217 223" y="31" fill="#FF8000" font-family="'IPAGothic','Liberation Mono',monospace" font-size="11">MA10:90.7840</tspan></text>
<text ><tspan x="235 241 247 253 259 265 271 277 283 289 295 301" y="31" fill="#400080" font-family="'IPAGothic','Liberation Mono',monospace" font-size="11">MA26:91.8815</tspan></text>
<text ><tspan x="313 319 325 331 337 343 349 355 361 367 373 379" y="31" fill="#0000FF" font-family="'IPAGothic','Liberation Mono',monospace" font-size="11">MA62:93.4960</tspan></text>
<text ><tspan x="391 397 403 409 415 421 427 433 439 445 451 457" y="31" fill="#FF80FF" font-family="'IPAGothic','Liberation Mono',monospace" font-size="11">MA62:93.4960</tspan></text>
<text x="59" y="48" fill="#000000" font-size="12" font-family="'Liberation Sans',Arial,sans-serif" text-anchor="end" >20090521</text>
<text x="14" y="62" fill="#0E2C5E" font-size="12" font-family="'WenQuanYi Zen Hei','Noto Sans CJK SC',sans-serif" text-anchor="start"  stroke="#0E2C5E" stroke-width="0.3">开</text>
<text x="38" y="62" fill="#0E2C5E" font-size="12" font-family="'WenQuanYi Zen Hei','Noto Sans CJK SC',sans-serif" text-anchor="start"  stroke="#0E2C5E" stroke-width="0.3">盘</text>
<text x="61" y="75" fill="#FF0000" font-size="12" font-family="'Liberation Sans',Arial,sans-serif" text-anchor="end" >94.96</text>
<text x="14" y="90" fill="#0E2C5E" font-size="12" font-family="'WenQuanYi Zen Hei','Noto Sans CJK SC',sans-serif" text-anchor="start"  stroke="#0E2C5E" stroke-width="0.3">最</text>
<text x="38" y="90" fill="#0E2C5E" font-size="12" font-family="'WenQuanYi Zen Hei','Noto Sans CJK SC',sans-serif" text-anchor="start"  stroke="#0E2C5E" stroke-width="0.3">高</text>
<text x="61" y="103" fill="#FF0000" font-size="12" font-family="'Liberation Sans',Arial,sans-serif" text-anchor="end" >95.25</text>
<text x="14" y="118" fill="#0E2C5E" font-size="12" font-family="'WenQuanYi Zen Hei','Noto Sans CJK SC',sans-serif" text-anchor="start"  stroke="#0E2C5E" stroke-width="0.3">最</text>
<text x="38" y="118" fill="#0E2C5E" font-size="12" font-family="'WenQuanYi Zen Hei','Noto Sans CJK SC',sans-serif" text-anchor="start"  stroke="#0E2C5E" stroke-width="0.3">低</text>
<text x="61" y="131" fill="#008000" font-size="12" font-family="'Liberation Sans',Arial,sans-serif" text-anchor="end" >93.97</text>
<text x="14" y="146" fill="#0E2C5E" font-size="12" font-family="'WenQuanYi Zen Hei','Noto Sans CJK SC',sans-serif" text-anchor="start"  stroke="#0E2C5E" stroke-width="0.3">收</text>
<text x="38" y="146" fill="#0E2C5E" font-size="12" font-family="'WenQuanYi Zen Hei','Noto Sans CJK SC',sans-serif" text-anchor="start"  stroke="#0E2C5E" stroke-width="0.3">盘</text>
<text x="61" y="159" fill="#008000" font-size="12" font-family="'Liberation Sans',Arial,sans-serif" text-anchor="end" >94.40</text>
<text x="11.5" y="174" fill="#0E2C5E" font-size="12" font-family="'WenQuanYi Zen Hei','Noto Sans CJK SC',sans-serif" text-anchor="start"  stroke="#0E2C5E" stroke-width="0.3">成</text>
<text x="26.1" y="174" fill="#0E2C5E" font-size="12" font-family="'WenQuanYi Zen Hei','Noto Sans CJK SC',sans-serif" text-anchor="start"  stroke="#0E2C5E" stroke-width="0.3">交</text>
<text x="40.7" y="174" fill="#0E2C5E" font-size="12" font-family="'WenQuanYi Zen Hei','Noto Sans CJK SC',sans-serif" text-anchor="start"  stroke="#0E2C5E" stroke-width="0.3">量</text>
<text x="61" y="187" fill="#0E2C5E" font-size="12" font-family="'Liberation Sans',Arial,sans-serif" text-anchor="end" >0</text>
<text x="8" y="202" fill="#0E2C5E" font-size="12" font-family="'WenQuanYi Zen Hei','Noto Sans CJK SC',sans-serif" text-anchor="start"  stroke="#0E2C5E" stroke-width="0.3">成交金额</text>
<text x="61" y="215" fill="#0E2C5E" font-size="12" font-family="'Liberation Sans',Arial,sans-serif" text-anchor="end" >0.00</text>
<text x="14" y="230" fill="#0E2C5E" font-size="12" font-family="'WenQuanYi Zen Hei','Noto Sans CJK SC',sans-serif" text-anchor="start"  stroke="#0E2C5E" stroke-width="0.3">涨</text>
<text x="38" y="230" fill="#0E2C5E" font-size="12" font-family="'WenQuanYi Zen Hei','Noto Sans CJK SC',sans-serif" text-anchor="start"  stroke="#0E2C5E" stroke-width="0.3">跌</text>
<text x="61" y="243" fill="#008000" font-size="12" font-family="'Liberation Sans',Arial,sans-serif" text-anchor="end" >-0.48</text>
<text x="14" y="258" fill="#0E2C5E" font-size="12" font-family="'WenQuanYi Zen Hei','Noto Sans CJK SC',sans-serif" text-anchor="start"  stroke="#0E2C5E" stroke-width="0.3">幅</text>
<text x="38" y="258" fill="#0E2C5E" font-size="12" font-family="'WenQuanYi Zen Hei','Noto Sans CJK SC',sans-serif" text-anchor="start"  stroke="#0E2C5E" stroke-width="0.3">度</text>
<text x="61" y="271" fill="#008000" font-size="12" font-family="'Liberation Sans',Arial,sans-serif" text-anchor="end" >-5.06%</text>
<text x="58" y="310" fill="#505050" font-size="12" font-family="'Liberation Sans',Arial,sans-serif" text-anchor="end" >92</text>
<text x="58" y="378" fill="#505050" font-size="12" font-family="'Liberation Sans',Arial,sans-serif" text-anchor="end" >90</text>
<text x="58" y="518" fill="#606060" font-size="13" font-family="'Liberation Serif',serif" text-anchor="end" letter-spacing="0.5">60</text>
<text x="58" y="576" fill="#606060" font-size="13" font-family="'Liberation Serif',serif" text-anchor="end" letter-spacing="0.5">40</text>
<text x="75" y="49" fill="#0A2850" font-size="13" font-family="'IPAGothic','Liberation Mono',monospace" text-anchor="start" letter-spacing="0.8">99.65</text>
<text x="891" y="438" fill="#0A2850" font-size="13" font-family="'IPAGothic','Liberation Mono',monospace" text-anchor="start" letter-spacing="0.8">88.25</text>
<text ><tspan x="64 70 76 82 88 94 100 106 112 118 124 130 136 142 148" y="462" fill="#606060" font-family="'IPAGothic','Liberation Mono',monospace" font-size="11">SLOWKD(9,3,3,5)</tspan></text>
<text ><tspan x="160 166 172 178 184 190 196 202 208" y="462" fill="#0A2A5C" font-family="'IPAGothic','Liberation Mono',monospace" font-size="11">K:34.9170</tspan></text>
<text ><tspan x="220 226 232 238 244 250 256 262 268" y="462" fill="#FF8000" font-family="'IPAGothic','Liberation Mono',monospace" font-size="11">D:33.8131</tspan></text>
<text x="58" y="645.5" fill="#505050" font-size="12" font-family="'WenQuanYi Zen Hei','Noto Sans CJK SC',sans-serif" text-anchor="end"  stroke="#505050" stroke-width="0.3">日线</text>
<text ><tspan x="65 71 77 83 89 95" y="646" fill="#606060" font-family="'IPAGothic','Liberation Mono',monospace" font-size="11">200904</tspan></text>
<text ><tspan x="261 267" y="646" fill="#606060" font-family="'IPAGothic','Liberation Mono',monospace" font-size="11">06</tspan></text>
<text ><tspan x="437 443" y="646" fill="#606060" font-family="'IPAGothic','Liberation Mono',monospace" font-size="11">07</tspan></text>
<text ><tspan x="613 619" y="646" fill="#606060" font-family="'IPAGothic','Liberation Mono',monospace" font-size="11">08</tspan></text>
<text ><tspan x="789 795" y="646" fill="#606060" font-family="'IPAGothic','Liberation Mono',monospace" font-size="11">09</tspan></text>
<text x="2" y="664" fill="#0000FF" font-size="12" font-family="'WenQuanYi Zen Hei','Noto Sans CJK SC',sans-serif" text-anchor="start" font-weight="bold" stroke="#0000FF" stroke-width="0.3">沪</text>
<text x="25" y="664" fill="#008000" font-size="12" font-family="'Liberation Sans',Arial,sans-serif" text-anchor="start" font-weight="bold">2763.52</text>
<text x="91" y="664" fill="#008000" font-size="12" font-family="'Liberation Sans',Arial,sans-serif" text-anchor="start" font-weight="bold">75.32</text>
<text x="130" y="664" fill="#000000" font-size="12" font-family="'Liberation Sans',Arial,sans-serif" text-anchor="start" font-weight="bold">772.4亿</text>
<text x="188" y="664" fill="#0000FF" font-size="12" font-family="'WenQuanYi Zen Hei','Noto Sans CJK SC',sans-serif" text-anchor="start" font-weight="bold" stroke="#0000FF" stroke-width="0.3">深</text>
<text x="206" y="664" fill="#008000" font-size="12" font-family="'Liberation Sans',Arial,sans-serif" text-anchor="start" font-weight="bold">11086.71</text>
<text x="271" y="664" fill="#008000" font-size="12" font-family="'Liberation Sans',Arial,sans-serif" text-anchor="start" font-weight="bold">207.45</text>
<text x="318" y="664" fill="#000000" font-size="12" font-family="'Liberation Sans',Arial,sans-serif" text-anchor="start" font-weight="bold">438.7亿</text>
<text x="705" y="664" fill="#1A3868" font-size="11" font-family="'WenQuanYi Zen Hei','Noto Sans CJK SC',sans-serif" text-anchor="start"  stroke="#1A3868" stroke-width="0.3">『全国市场』免费个股推荐</text>
<rect x="833" y="653" width="82" height="6" fill="#0000F0"/>
<text x="838" y="664" fill="#FFFF00" font-size="12" font-family="'Liberation Sans',Arial,sans-serif" text-anchor="start" font-weight="bold">▲331</text>
<text x="919" y="664" font-size="12" font-family="'Liberation Sans',Arial,sans-serif" font-weight="bold" fill="#0A2A8C">noh<tspan fill="#FF0000">o</tspan></text>
<text x="961" y="664" fill="#0A2A8C" font-size="12" font-family="'Liberation Sans',Arial,sans-serif" text-anchor="start" font-weight="bold">▼ ↓</text>
<text x="989" y="664" fill="#0A2A8C" font-size="12" font-family="'Liberation Sans',Arial,sans-serif" text-anchor="start" >09:29</text>
</g>
</svg>
</body></html>
